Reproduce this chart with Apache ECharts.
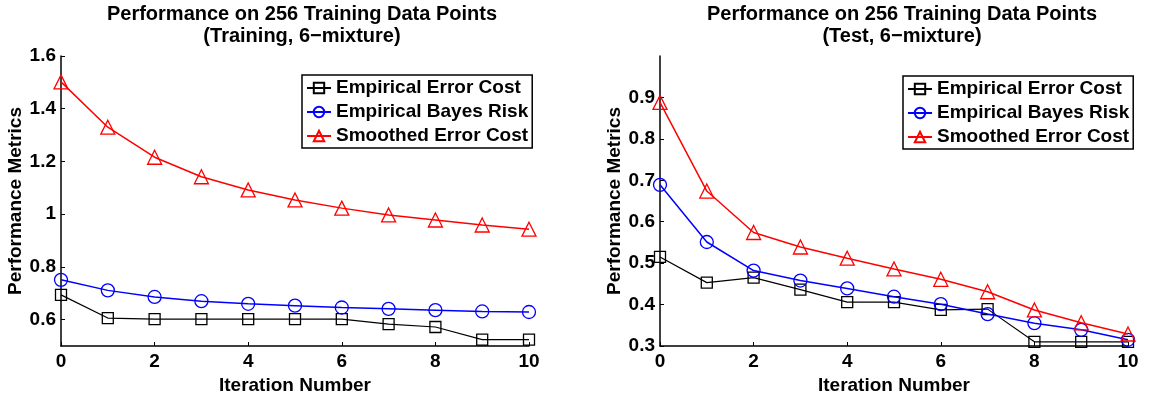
<!DOCTYPE html>
<html>
<head>
<meta charset="utf-8">
<script src="https://cdn.jsdelivr.net/npm/echarts@6/dist/echarts.min.js"></script>
<style>
html,body{margin:0;padding:0;background:#fff;}
#chart{width:1149px;height:393px;}
</style>
</head>
<body>
<div id="chart"></div>
<script>
// ---- data ----
var iterations = [0, 1, 2, 3, 4, 5, 6, 7, 8, 9, 10];
var seriesNames = ['Empirical Error Cost', 'Empirical Bayes Risk', 'Smoothed Error Cost'];

var trainErrorCost   = [0.694, 0.606, 0.602, 0.602, 0.602, 0.602, 0.602, 0.583, 0.572, 0.524, 0.524];
var trainBayesRisk   = [0.751, 0.711, 0.686, 0.670, 0.660, 0.653, 0.646, 0.641, 0.636, 0.631, 0.629];
var trainSmoothed    = [1.502, 1.330, 1.216, 1.142, 1.092, 1.054, 1.023, 0.997, 0.978, 0.959, 0.943];

var testErrorCost    = [0.515, 0.453, 0.465, 0.436, 0.406, 0.406, 0.387, 0.389, 0.310, 0.310, 0.310];
var testBayesRisk    = [0.689, 0.551, 0.482, 0.458, 0.439, 0.419, 0.401, 0.377, 0.355, 0.339, 0.315];
var testSmoothed     = [0.888, 0.674, 0.574, 0.539, 0.512, 0.486, 0.461, 0.431, 0.387, 0.356, 0.329];

var trainYTicks = [0.6, 0.8, 1.0, 1.2, 1.4, 1.6];
var testYTicks  = [0.3, 0.4, 0.5, 0.6, 0.7, 0.8, 0.9];
var xTicks      = [0, 2, 4, 6, 8, 10];

var titles = [
  'Performance on 256 Training Data Points\n(Training, 6\u2212mixture)',
  'Performance on 256 Training Data Points\n(Test, 6\u2212mixture)'
];
var xName = 'Iteration Number';
var yName = 'Performance Metrics';

// ---- styling ----
var FONT = '"Liberation Sans", Arial, Helvetica, sans-serif';
var colors = ['#000000', '#0000ff', '#ff0000'];
var symbols = ['rect', 'circle', 'triangle'];
var symbolSizes = [11, 13, 14];
var lineWidths = [1.2, 1.5, 1.5];

function pairs(ys) { return iterations.map(function (x, i) { return [x, ys[i]]; }); }
function fmt(v) { return String(parseFloat(Number(v).toFixed(1))); }

function makeSeries(vals, gi) {
  return vals.map(function (ys, k) {
    return {
      name: seriesNames[k],
      type: 'line',
      xAxisIndex: gi, yAxisIndex: gi,
      data: pairs(ys),
      symbol: symbols[k],
      symbolSize: symbolSizes[k],
      showAllSymbol: true,
      lineStyle: { color: colors[k], width: lineWidths[k] },
      itemStyle: { color: 'rgba(255,255,255,0)', borderColor: colors[k], borderWidth: 1.3 },
      emphasis: { disabled: true },
      animation: false,
      z: 3 + k
    };
  });
}

function xAxis(gi) {
  return {
    type: 'value', gridIndex: gi, min: 0, max: 10, interval: 2,
    name: xName, nameLocation: 'middle', nameGap: 21,
    nameTextStyle: { fontFamily: FONT, fontWeight: 'bold', fontSize: 19, color: '#000' },
    axisLine: { show: true, onZero: false, lineStyle: { color: '#000', width: 1.5 } },
    axisTick: { show: true, inside: true, length: 4, lineStyle: { color: '#000', width: 1 }, customValues: xTicks },
    axisLabel: { fontFamily: FONT, fontWeight: 'bold', fontSize: 19, color: '#000', margin: 6, customValues: xTicks },
    splitLine: { show: false }
  };
}

function yAxis(gi, min, max, ticks, gap) {
  return {
    type: 'value', gridIndex: gi, min: min, max: max,
    name: yName, nameLocation: 'middle', nameGap: gap, nameRotate: 90, nameMoveOverlap: false,
    nameTextStyle: { fontFamily: FONT, fontWeight: 'bold', fontSize: 19, color: '#000' },
    axisLine: { show: true, onZero: false, lineStyle: { color: '#000', width: 1.5 } },
    axisTick: { show: true, inside: true, length: 4, lineStyle: { color: '#000', width: 1 }, customValues: ticks },
    axisLabel: { fontFamily: FONT, fontWeight: 'bold', fontSize: 19, color: '#000', margin: 5,
                 customValues: ticks, formatter: fmt },
    splitLine: { show: false }
  };
}

function legend(left, top) {
  return {
    data: seriesNames,
    orient: 'vertical',
    left: left, top: top,
    itemWidth: 24, itemHeight: 13, itemGap: 4,
    padding: [3, 4, 2, 4],
    borderColor: '#000', borderWidth: 1.5, backgroundColor: '#fff',
    selectedMode: false,
    textStyle: { fontFamily: FONT, fontWeight: 'bold', fontSize: 19, color: '#000', lineHeight: 20 }
  };
}

var titleStyle = { fontFamily: FONT, fontWeight: 'bold', fontSize: 20, color: '#000', lineHeight: 22 };

var chart = echarts.init(document.getElementById('chart'), null, { renderer: 'canvas' });
chart.setOption({
  backgroundColor: '#fff',
  animation: false,
  title: [
    { text: titles[0], left: 297, top: -2, textAlign: 'center', textStyle: titleStyle },
    { text: titles[1], left: 897, top: -2, textAlign: 'center', textStyle: titleStyle }
  ],
  legend: [legend(302, 75), legend(903, 76)],
  grid: [
    { left: 61, top: 56, width: 468, height: 290, containLabel: false, outerBoundsMode: 'none' },
    { left: 660, top: 56, width: 468, height: 290, containLabel: false, outerBoundsMode: 'none' }
  ],
  xAxis: [xAxis(0), xAxis(1)],
  yAxis: [yAxis(0, 0.5, 1.6, trainYTicks, 36), yAxis(1, 0.3, 1.0, testYTicks, 36)],
  series: makeSeries([trainErrorCost, trainBayesRisk, trainSmoothed], 0)
    .concat(makeSeries([testErrorCost, testBayesRisk, testSmoothed], 1))
});
</script>
</body>
</html>
